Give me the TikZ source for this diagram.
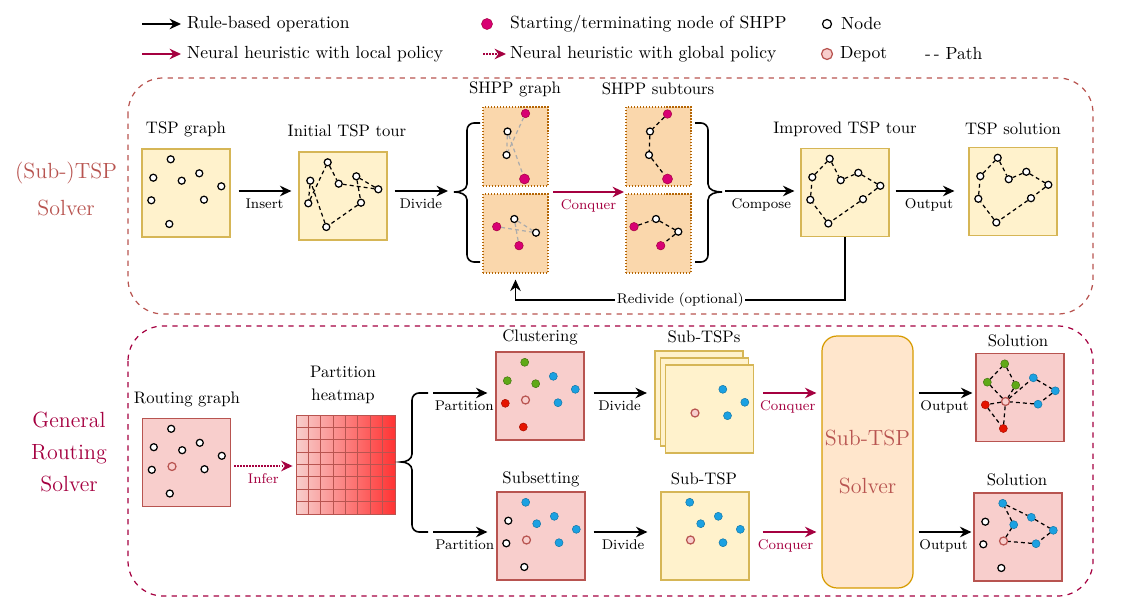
\documentclass[tikz,border=0pt]{standalone}
\usetikzlibrary{arrows.meta,positioning}
\definecolor{tspred}{HTML}{B85450}
\definecolor{gmag}{HTML}{A50040}
\definecolor{yfill}{HTML}{FFF2CC}
\definecolor{ydraw}{HTML}{D6B656}
\definecolor{ofill}{HTML}{FAD7AC}
\definecolor{odraw}{HTML}{B46504}
\definecolor{rfill}{HTML}{F8CECC}
\definecolor{sfill}{HTML}{FFE6CC}
\definecolor{sdraw}{HTML}{D79B00}
\definecolor{shpp}{HTML}{D80073}
\definecolor{cblue}{HTML}{1BA1E2}
\definecolor{cgreen}{HTML}{60A917}
\definecolor{cred}{HTML}{E51400}
\definecolor{heatred}{HTML}{FF3333}
\tikzset{
	leg/.style={font=\fontsize{10}{12}\selectfont, inner sep=1pt, anchor=west},
	ttl/.style={font=\fontsize{9.5}{11}\selectfont, inner sep=1pt},
	lbl/.style={font=\footnotesize, inner sep=1pt, below=3pt},
	ybox/.style={draw=ydraw, fill=yfill, line width=0.7pt, minimum width=1.76cm, minimum height=1.76cm, inner sep=0},
	rbox/.style={draw=tspred, fill=rfill, line width=0.7pt, minimum width=1.76cm, minimum height=1.76cm, inner sep=0},
	obox/.style={draw=odraw, fill=ofill, densely dotted, line width=0.7pt, minimum width=1.3cm, minimum height=1.58cm, inner sep=0},
	nd/.style={circle, draw, fill=white, line width=0.7pt, minimum size=0.14cm, inner sep=0},
	depot/.style={circle, draw=tspred, fill=rfill, line width=0.7pt, minimum size=0.16cm, inner sep=0},
	bdot/.style={circle, draw=cblue!75!black, fill=cblue, line width=0.3pt, minimum size=0.16cm, inner sep=0},
	gdot/.style={circle, draw=cgreen!70!black, fill=cgreen, line width=0.3pt, minimum size=0.16cm, inner sep=0},
	rdot/.style={circle, draw=cred!75!black, fill=cred, line width=0.3pt, minimum size=0.16cm, inner sep=0},
	mdot/.style={circle, draw=gmag, fill=shpp, line width=0.3pt, minimum size=0.17cm, inner sep=0},
	tour/.style={dash pattern=on 2.2pt off 1.8pt, line width=0.7pt},
	gtour/.style={draw=gray!65, dash pattern=on 2.2pt off 1.8pt, line width=0.7pt},
	rulearr/.style={line width=0.9pt, -{Stealth[length=6.5pt,width=6pt]}},
	localarr/.style={rulearr, color=gmag},
	globalarr/.style={rulearr, color=gmag, dash pattern=on 0.9pt off 0.8pt},
	bracestyle/.style={line width=0.9pt},
	heatgrid/.style={draw=tspred, line width=0.5pt}
}
\begin{document}
\begin{tikzpicture}[x=0.02cm, y=-0.02cm]
	\useasboundingbox (0,0) rectangle (1124,614);
	% legend
	\coordinate (lr0) at (142,24);
	\coordinate (lr1) at (181,24);
	\draw[rulearr] (lr0) -- (lr1);
	\node[leg] (lrt) at (185,24) {Rule-based operation};
	\coordinate (ll0) at (142,54);
	\coordinate (ll1) at (181,54);
	\draw[localarr] (ll0) -- (ll1);
	\node[leg] (llt) at (185,54) {Neural heuristic with local policy};
	\node[mdot, minimum size=0.22cm] (lm) at (487,24) {};
	\node[leg] (lmt) at (508,24) {Starting/terminating node of SHPP};
	\coordinate (lg0) at (483,54);
	\coordinate (lg1) at (506,54);
	\draw[globalarr] (lg0) -- (lg1);
	\node[leg] (lgt) at (508,54) {Neural heuristic with global policy};
	\node[nd, minimum size=0.18cm] (ln) at (827,24) {};
	\node[leg] (lnt) at (839,24) {Node};
	\node[depot, minimum size=0.22cm] (ld) at (827,54) {};
	\node[leg] (ldt) at (838,54) {Depot};
	\node[leg] (lpt) at (923,54) {-\,-\ Path};

	% (Sub-)TSP solver panel
	\draw[tspred, dashed, line width=0.7pt, rounded corners=0.7cm] (128,78) rectangle (1093,314);
	\node[tspred, align=center, font=\fontsize{12.5}{21.6}\selectfont] (tsplbl) at (66,189) {(Sub-)TSP\\Solver};

	\node[ybox] (tspg) at (186,193) {};
	\node[ttl] (tspgt) at (186,129) {TSP graph};
	\begin{scope}[shift={(186,193)}]
		\node[nd] (g1) at (-15.3,-33.7) {};
		\node[nd] (g2) at (-32.7,-15.3) {};
		\node[nd] (g3) at (-4.3,-12.3) {};
		\node[nd] (g4) at (13.3,-19.7) {};
		\node[nd] (g5) at (35.3,-6.7) {};
		\node[nd] (g6) at (-34.7,7.3) {};
		\node[nd] (g7) at (18,6.7) {};
		\node[nd] (g8) at (-16.7,31) {};
	\end{scope}

	\node[ybox] (init) at (343,196) {};
	\node[ttl] (initt) at (347,131) {Initial TSP tour};
	\begin{scope}[shift={(343,196)}]
		\node[nd] (t1) at (-15.3,-33.7) {};
		\node[nd] (t2) at (-32.7,-15.3) {};
		\node[nd] (t3) at (-4.3,-12.3) {};
		\node[nd] (t4) at (13.3,-19.7) {};
		\node[nd] (t5) at (35.3,-6.7) {};
		\node[nd] (t6) at (-34.7,7.3) {};
		\node[nd] (t7) at (18,6.7) {};
		\node[nd] (t8) at (-16.7,31) {};
	\end{scope}
	\draw[tour] (t1) -- (t3) -- (t5) -- (t4) -- (t7) -- (t8) -- (t2) -- (t6) -- (t1);

	\coordinate (rowa) at (0,191);
	\coordinate (brl) at (454,192);
	\coordinate (brr) at (722,192);
	\draw[rulearr, shorten <=0.16cm, shorten >=0.14cm] (tspg.east |- rowa) -- node[lbl] {Insert} (init.west |- rowa);
	\draw[rulearr, shorten <=0.14cm, shorten >=0.12cm] (init.east |- rowa) -- node[lbl] {Divide} (brl |- rowa);

	% SHPP graph and subtours
	\node[ttl] (shgt) at (515,89) {SHPP graph};
	\node[ttl] (shst) at (658,89) {SHPP subtours};
	\node[obox] (shg1) at (515.5,146.5) {};
	\node[obox] (shg2) at (515.5,233.5) {};
	\node[obox] (shs1) at (658.5,146.5) {};
	\node[obox] (shs2) at (658.5,233.5) {};
	\begin{scope}[shift={(515.5,146.5)}]
		\node[mdot] (ha1) at (10,-33) {};
		\node[nd] (hb1) at (-8,-15) {};
		\node[nd] (hc1) at (-9,8.5) {};
		\node[mdot, minimum size=0.2cm] (hd1) at (9,32.5) {};
	\end{scope}
	\draw[gtour] (ha1) -- (hc1);
	\draw[gtour] (hb1) -- (hd1);
	\draw[gtour] (hb1) -- (hc1);
	\begin{scope}[shift={(515.5,233.5)}]
		\node[mdot] (ha2) at (-18.8,-6.8) {};
		\node[nd] (hb2) at (-1.2,-14.5) {};
		\node[nd] (hc2) at (20.5,-0.8) {};
		\node[mdot] (hd2) at (3.5,12.2) {};
	\end{scope}
	\draw[gtour] (ha2) -- (hc2);
	\draw[gtour] (hb2) -- (hd2);
	\draw[gtour] (hb2) -- (hc2);
	\begin{scope}[shift={(658.5,146.5)}]
		\node[mdot] (sa1) at (9,-32.5) {};
		\node[nd] (sb1) at (-8.5,-15) {};
		\node[nd] (sc1) at (-9.5,8.5) {};
		\node[mdot, minimum size=0.2cm] (sd1) at (9,32.5) {};
	\end{scope}
	\draw[tour] (sa1) -- (sb1) -- (sc1) -- (sd1);
	\begin{scope}[shift={(658.5,233.5)}]
		\node[mdot] (sa2) at (-24.5,-6.8) {};
		\node[nd] (sb2) at (-2.5,-14.5) {};
		\node[nd] (sc2) at (19.8,-1.8) {};
		\node[mdot] (sd2) at (2.2,12.2) {};
	\end{scope}
	\draw[tour] (sa2) -- (sb2) -- (sc2) -- (sd2);

	\coordinate (cq0) at (553,192);
	\coordinate (cq1) at (624,192);
	\draw[localarr] (cq0) -- node[lbl, gmag] {Conquer} (cq1);

	% braces
	\coordinate (lba) at (480,123);
	\coordinate (lbb) at (480,262);
	\draw[bracestyle] (lba) -- (474,123) to[out=180,in=90] (467,130) -- (467,184) to[out=270,in=0] (brl) to[out=0,in=90] (467,200) -- (467,255) to[out=270,in=180] (474,262) -- (lbb);
	\coordinate (rba) at (695,123);
	\coordinate (rbb) at (695,262);
	\draw[bracestyle] (rba) -- (701,123) to[out=0,in=90] (708,130) -- (708,184) to[out=270,in=180] (brr) to[out=180,in=90] (708,200) -- (708,255) to[out=270,in=0] (701,262) -- (rbb);

	\node[ybox] (impr) at (845,192.5) {};
	\node[ttl] (imprt) at (845,129) {Improved TSP tour};
	\begin{scope}[shift={(845,192.5)}]
		\node[nd] (v1) at (-15.3,-33.7) {};
		\node[nd] (v2) at (-32.7,-15.3) {};
		\node[nd] (v3) at (-4.3,-12.3) {};
		\node[nd] (v4) at (13.3,-19.7) {};
		\node[nd] (v5) at (35.3,-6.7) {};
		\node[nd] (v6) at (-34.7,7.3) {};
		\node[nd] (v7) at (18,6.7) {};
		\node[nd] (v8) at (-16.7,31) {};
	\end{scope}
	\draw[tour] (v1) -- (v3) -- (v4) -- (v5) -- (v7) -- (v8) -- (v6) -- (v2) -- (v1);

	\node[ybox] (tsol) at (1013,191.5) {};
	\node[ttl] (tsolt) at (1013,129) {TSP solution};
	\begin{scope}[shift={(1013,191.5)}]
		\node[nd] (s1) at (-15.3,-33.7) {};
		\node[nd] (s2) at (-32.7,-15.3) {};
		\node[nd] (s3) at (-4.3,-12.3) {};
		\node[nd] (s4) at (13.3,-19.7) {};
		\node[nd] (s5) at (35.3,-6.7) {};
		\node[nd] (s6) at (-34.7,7.3) {};
		\node[nd] (s7) at (18,6.7) {};
		\node[nd] (s8) at (-16.7,31) {};
	\end{scope}
	\draw[tour] (s1) -- (s3) -- (s4) -- (s5) -- (s7) -- (s8) -- (s6) -- (s2) -- (s1);

	\draw[rulearr, shorten <=0.06cm, shorten >=0.12cm] (brr |- rowa) -- node[lbl] {Compose} (impr.west |- rowa);
	\draw[rulearr, shorten <=0.12cm, shorten >=0.28cm] (impr.east |- rowa) -- node[lbl] {Output} (tsol.west |- rowa);

	\coordinate (rdv) at (515.5,300);
	\draw[rulearr, shorten >=0.12cm] (impr.south) |- node[pos=0.75, fill=white, inner sep=1pt, font=\footnotesize] {Redivide (optional)} (rdv) -- (shg2.south);

	% general routing solver panel
	\draw[gmag, dashed, line width=0.7pt, rounded corners=0.7cm] (128,326) rectangle (1093,596);
	\node[gmag, align=center, font=\fontsize{12.5}{18.2}\selectfont] (grlbl) at (69,452) {General\\Routing\\Solver};

	\node[rbox] (rgraph) at (186.5,462.5) {};
	\node[ttl] (rgrapht) at (187,399) {Routing graph};
	\begin{scope}[shift={(186.5,462.5)}]
		\node[nd] (r1) at (-15.3,-33.7) {};
		\node[nd] (r2) at (-32.7,-15.3) {};
		\node[nd] (r3) at (-4.3,-12.3) {};
		\node[nd] (r4) at (13.3,-19.7) {};
		\node[nd] (r5) at (35.3,-6.7) {};
		\node[nd] (r6) at (-34.7,7.3) {};
		\node[nd] (r7) at (18,6.7) {};
		\node[nd] (r8) at (-16.7,31) {};
		\node[depot] (r0) at (-14.5,4) {};
	\end{scope}

	\node[draw=tspred, left color=rfill, right color=heatred, line width=0.5pt, minimum size=1.98cm, inner sep=0] (heat) at (345.5,464.5) {};
	\begin{scope}[shift={(296,415)}]
		\foreach \k in {1,...,7} {
			\draw[heatgrid] (\k*12.375,0) -- (\k*12.375,99);
			\draw[heatgrid] (0,\k*12.375) -- (99,\k*12.375);
		}
	\end{scope}
	\node[ttl, align=center, font=\fontsize{9.5}{13}\selectfont] (heatt) at (343,385) {Partition\\heatmap};

	\coordinate (rowb) at (0,466);
	\draw[globalarr, shorten <=0.06cm, shorten >=0.06cm] (rgraph.east |- rowb) -- node[lbl, gmag] {Infer} (heat.west |- rowb);

	\coordinate (brb) at (401,462);
	\coordinate (bra1) at (428,393);
	\coordinate (bra2) at (428,532);
	\draw[bracestyle] (bra1) -- (419,393) to[out=180,in=90] (412,400) -- (412,454) to[out=270,in=0] (brb) to[out=0,in=90] (412,470) -- (412,525) to[out=270,in=180] (419,532) -- (bra2);

	\node[rbox] (clu) at (540,396) {};
	\node[ttl] (clut) at (540,337) {Clustering};
	\begin{scope}[shift={(540,396)}]
		\node[gdot] (c1) at (-15.3,-33.7) {};
		\node[gdot] (c2) at (-32.7,-15.3) {};
		\node[gdot] (c3) at (-4.3,-12.3) {};
		\node[bdot] (c4) at (13.3,-19.7) {};
		\node[bdot] (c5) at (35.3,-6.7) {};
		\node[rdot] (c6) at (-34.7,7.3) {};
		\node[bdot] (c7) at (18,6.7) {};
		\node[rdot] (c8) at (-16.7,31) {};
		\node[depot] (c0) at (-14.5,4) {};
	\end{scope}

	\node[rbox] (sbs) at (541,536) {};
	\node[ttl] (sbst) at (541,479) {Subsetting};
	\begin{scope}[shift={(541,536)}]
		\node[bdot] (b1) at (-15.3,-33.7) {};
		\node[nd] (b2) at (-32.7,-15.3) {};
		\node[bdot] (b3) at (-4.3,-12.3) {};
		\node[bdot] (b4) at (13.3,-19.7) {};
		\node[bdot] (b5) at (35.3,-6.7) {};
		\node[nd] (b6) at (-34.7,7.3) {};
		\node[bdot] (b7) at (18,6.7) {};
		\node[nd] (b8) at (-16.7,31) {};
		\node[depot] (b0) at (-14.5,4) {};
	\end{scope}

	\coordinate (pa1) at (433,393);
	\coordinate (pa2) at (433,532);
	\draw[rulearr, shorten >=0.16cm] (pa1) -- node[lbl] {Partition} (pa1 -| clu.west);
	\draw[rulearr, shorten >=0.18cm] (pa2) -- node[lbl] {Partition} (pa2 -| sbs.west);

	\node[ybox] (stspc) at (699,395) {};
	\node[ybox] (stspb) at (704.5,402) {};
	\node[ybox] (stspa) at (709.5,409) {};
	\node[ttl] (stspt) at (704,337) {Sub-TSPs};
	\begin{scope}[shift={(709.5,409)}]
		\node[bdot] (u4) at (13.3,-19.7) {};
		\node[bdot] (u5) at (35.3,-6.7) {};
		\node[bdot] (u7) at (18,6.7) {};
		\node[depot] (u0) at (-14.5,4) {};
	\end{scope}

	\node[ybox] (stsp) at (705,536) {};
	\node[ttl] (stspst) at (704,479) {Sub-TSP};
	\begin{scope}[shift={(705,536)}]
		\node[bdot] (w1) at (-15.3,-33.7) {};
		\node[bdot] (w3) at (-4.3,-12.3) {};
		\node[bdot] (w4) at (13.3,-19.7) {};
		\node[bdot] (w5) at (35.3,-6.7) {};
		\node[bdot] (w7) at (18,6.7) {};
		\node[depot] (w0) at (-14.5,4) {};
	\end{scope}

	\draw[rulearr, shorten <=0.18cm, shorten >=0.15cm] (clu.east |- pa1) -- node[lbl] {Divide} (stspc.west |- pa1);
	\draw[rulearr, shorten <=0.16cm, shorten >=0.26cm] (sbs.east |- pa2) -- node[lbl] {Divide} (stsp.west |- pa2);

	\node[draw=sdraw, fill=sfill, line width=0.7pt, rounded corners=0.3cm, minimum width=1.82cm, minimum height=5.04cm, inner sep=0, align=center, text=tspred, font=\fontsize{12.5}{27}\selectfont] (solver) at (867.5,462) {Sub-TSP\\Solver};

	\draw[localarr, shorten <=0.18cm, shorten >=0.1cm] (stspa.east |- pa1) -- node[lbl, gmag] {Conquer} (solver.west |- pa1);
	\draw[localarr, shorten <=0.26cm, shorten >=0.1cm] (stsp.east |- pa2) -- node[lbl, gmag] {Conquer} (solver.west |- pa2);

	\node[rbox] (sol1) at (1020,397.5) {};
	\node[ttl] (sol1t) at (1018,341) {Solution};
	\begin{scope}[shift={(1020,397.5)}]
		\node[gdot] (x1) at (-15.3,-33.7) {};
		\node[gdot] (x2) at (-32.7,-15.3) {};
		\node[gdot] (x3) at (-4.3,-12.3) {};
		\node[bdot] (x4) at (13.3,-19.7) {};
		\node[bdot] (x5) at (35.3,-6.7) {};
		\node[rdot] (x6) at (-34.7,7.3) {};
		\node[bdot] (x7) at (18,6.7) {};
		\node[rdot] (x8) at (-16.7,31) {};
		\node[depot] (x0) at (-14.5,4) {};
	\end{scope}
	\draw[tour] (x0) -- (x2) -- (x1) -- (x3) -- (x0);
	\draw[tour] (x0) -- (x4) -- (x5) -- (x7) -- (x0);
	\draw[tour] (x0) -- (x6) -- (x8) -- (x0);

	\node[rbox] (sol2) at (1018,537) {};
	\node[ttl] (sol2t) at (1017,480) {Solution};
	\begin{scope}[shift={(1018,537)}]
		\node[bdot] (z1) at (-15.3,-33.7) {};
		\node[nd] (z2) at (-32.7,-15.3) {};
		\node[bdot] (z3) at (-4.3,-12.3) {};
		\node[bdot] (z4) at (13.3,-19.7) {};
		\node[bdot] (z5) at (35.3,-6.7) {};
		\node[nd] (z6) at (-34.7,7.3) {};
		\node[bdot] (z7) at (18,6.7) {};
		\node[nd] (z8) at (-16.7,31) {};
		\node[depot] (z0) at (-14.5,4) {};
	\end{scope}
	\draw[tour] (z0) -- (z3) -- (z1) -- (z4) -- (z5) -- (z7) -- (z0);

	\draw[rulearr, shorten <=0.1cm, shorten >=0.06cm] (solver.east |- pa1) -- node[lbl] {Output} (sol1.west |- pa1);
	\draw[rulearr, shorten <=0.1cm, shorten >=0.04cm] (solver.east |- pa2) -- node[lbl] {Output} (sol2.west |- pa2);
\end{tikzpicture}
\end{document}
